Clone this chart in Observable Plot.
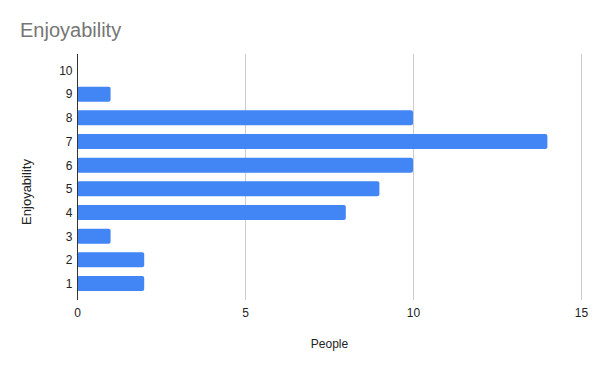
<!DOCTYPE html>
<html>
<head>
<meta charset="utf-8">
<script src="https://cdn.jsdelivr.net/npm/d3@7"></script>
<script src="https://cdn.jsdelivr.net/npm/@observablehq/plot@0.6"></script>
<style>
  html, body { margin: 0; padding: 0; background: #fff; }
  #title-box { position: relative; height: 44px; width: 600px; }
  #title { position: absolute; left: 20px; top: 20px; font-family: "Liberation Sans", Arial, sans-serif; font-size: 20px; line-height: 20px; color: #757575; white-space: nowrap; }
  #chart svg { display: block; }
</style>
</head>
<body>
<div id="title-box"><span id="title"></span></div>
<div id="chart"></div>
<script>
const chartTitle = "Enjoyability";
const xTitle = "People";
const yTitle = "Enjoyability";
const ratings = ["10", "9", "8", "7", "6", "5", "4", "3", "2", "1"];
const people = [0, 1, 10, 14, 10, 9, 8, 1, 2, 2];
const xTicks = [0, 5, 10, 15];

document.getElementById("title").textContent = chartTitle;

const data = ratings.map((r, i) => ({rating: r, people: people[i]}));

const chart = Plot.plot({
  width: 600,
  height: 327,
  marginLeft: 77,
  marginRight: 19,
  marginTop: 10,
  marginBottom: 71,
  style: {fontFamily: "'Liberation Sans', Arial, sans-serif", fontSize: "12px", color: "#222", background: "#fff"},
  x: {domain: [0, 15]},
  y: {domain: ratings, paddingInner: 0.366, paddingOuter: 0.378, align: 0.5, round: false},
  marks: [
    Plot.ruleX(xTicks.filter(d => d !== 0), {stroke: "#cccccc", strokeWidth: 1}),
    Plot.barX(data, {x: "people", y: "rating", fill: "#4285F4", rx: 2}),
    Plot.ruleX([0], {stroke: "#333", strokeWidth: 1}),
    Plot.axisX(xTicks, {tickSize: 0, tickPadding: 8, label: null, fontSize: 12}),
    Plot.axisY({tickSize: 0, tickPadding: 5, label: null, fontSize: 12}),
    Plot.text([xTitle], {frameAnchor: "bottom", textAnchor: "middle", dy: 47, fontSize: 12, fill: "#222"}),
    Plot.text([yTitle], {frameAnchor: "left", textAnchor: "middle", rotate: -90, dx: -50.5, dy: 14.5, fontSize: 13, fill: "#222"})
  ]
});
document.getElementById("chart").appendChild(chart);
</script>
</body>
</html>
